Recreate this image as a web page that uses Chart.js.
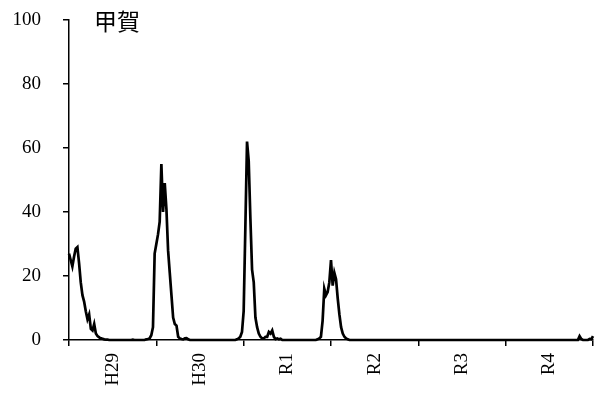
<!DOCTYPE html>
<html>
<head>
<meta charset="utf-8">
<script src="https://cdn.jsdelivr.net/npm/chart.js@4/dist/chart.umd.min.js"></script>
<style>
  html, body { margin: 0; padding: 0; background: #fff; }
  #wrap { width: 597px; height: 394px; position: relative; }
</style>
</head>
<body>
<div id="wrap"><canvas id="c" width="597" height="394"></canvas></div>
<script>
const chartTitle = '甲賀';
const yearLabels = ['H29', 'H30', 'R1', 'R2', 'R3', 'R4'];
const weeksPerYear = 52;

// weekly values, one array per year (52 weeks each)
const h29 = [27, 25, 23, 26, 28.5, 29, 24, 18, 14, 12, 9, 6.5, 8, 3.5, 3, 5, 2, 1.2, 0.8, 0.5,
             0.4, 0.2, 0.1, 0.1, 0, 0, 0, 0, 0, 0, 0, 0, 0, 0, 0, 0, 0, 0, 0.1, 0,
             0, 0, 0, 0, 0, 0, 0.2, 0.3, 0.5, 1.5, 4, 27];
const h30 = [30, 33, 37, 55, 40, 49, 41, 28, 21, 14, 7, 5, 4.5, 1, 0.5, 0.3, 0.2, 0.5, 0.6, 0.2,
             0, 0, 0, 0, 0, 0, 0, 0, 0, 0, 0, 0, 0, 0, 0, 0, 0, 0, 0, 0,
             0, 0, 0, 0, 0, 0, 0, 0, 0.2, 0.5, 1, 2.5];
const r1  = [9, 35, 62, 56, 38, 22, 18, 7, 4, 2, 1, 0.5, 0.5, 1, 1, 2.5, 2, 3, 1, 0.3,
             0.5, 0.2, 0.4, 0, 0, 0, 0, 0, 0, 0, 0, 0, 0, 0, 0, 0, 0, 0, 0, 0,
             0, 0, 0, 0, 0.2, 0.5, 1, 6, 16, 14, 15, 18];
const r2  = [25, 17, 21, 19, 13, 8, 4, 2, 1, 0.5, 0.2, 0, 0, 0, 0, 0, 0, 0, 0, 0,
             0, 0, 0, 0, 0, 0, 0, 0, 0, 0, 0, 0, 0, 0, 0, 0, 0, 0, 0, 0,
             0, 0, 0, 0, 0, 0, 0, 0, 0, 0, 0, 0];
const r3  = [0, 0, 0, 0, 0, 0, 0, 0, 0, 0, 0, 0, 0, 0, 0, 0, 0, 0, 0, 0,
             0, 0, 0, 0, 0, 0, 0, 0, 0, 0, 0, 0, 0, 0, 0, 0, 0, 0, 0, 0,
             0, 0, 0, 0, 0, 0, 0, 0, 0, 0, 0, 0];
const r4  = [0, 0, 0, 0, 0, 0, 0, 0, 0, 0, 0, 0, 0, 0, 0, 0, 0, 0, 0, 0,
             0, 0, 0, 0, 0, 0, 0, 0, 0, 0, 0, 0, 0, 0, 0, 0, 0, 0, 0, 0,
             0, 0, 0, 0, 1.2, 0.3, 0, 0, 0, 0, 0.3, 0.2];
const nextWeek = [1.2];

const yTicks = [0, 20, 40, 60, 80, 100];

const allValues = [].concat(h29, h30, r1, r2, r3, r4, nextWeek);
const points = allValues.map((v, i) => ({ x: i, y: v }));
const xMax = yearLabels.length * weeksPerYear;

const serif = '"Liberation Serif", "DejaVu Serif", serif';

const titlePlugin = {
  id: 'innerTitle',
  afterDraw(chart) {
    const ctx = chart.ctx;
    const a = chart.chartArea;
    ctx.save();
    ctx.fillStyle = '#000';
    ctx.font = '23px "Noto Sans CJK JP", sans-serif';
    ctx.textBaseline = 'top';
    ctx.textAlign = 'left';
    ctx.fillText(chartTitle, a.left + 25, 10);
    ctx.restore();
  }
};

new Chart(document.getElementById('c'), {
  type: 'line',
  data: {
    datasets: [{
      data: points,
      borderColor: '#000',
      borderWidth: 2.7,
      pointRadius: 0,
      tension: 0,
      fill: false,
      clip: 6
    }]
  },
  options: {
    responsive: false,
    animation: false,
    layout: { padding: { left: 0, right: 4, top: 20, bottom: 0 } },
    plugins: { legend: { display: false }, tooltip: { enabled: false } },
    scales: {
      x: {
        type: 'linear',
        min: 0,
        max: xMax,
        afterBuildTicks(scale) {
          const t = [];
          for (let v = 0; v <= xMax; v += weeksPerYear / 2) t.push({ value: v });
          scale.ticks = t;
        },
        afterFit(scale) {
          scale.height = 54;
          scale.paddingLeft = 0;
          scale.paddingRight = 0;
          scale.paddingTop = 0;
          scale.paddingBottom = 0;
        },
        ticks: {
          autoSkip: false,
          minRotation: 90,
          maxRotation: 90,
          padding: 7,
          color: '#000',
          font: { family: serif, size: 19 },
          callback(v) {
            if (v % weeksPerYear === weeksPerYear / 2) return yearLabels[(v - weeksPerYear / 2) / weeksPerYear];
            return '';
          }
        },
        grid: {
          drawOnChartArea: false,
          drawTicks: true,
          tickLength: 6,
          lineWidth: 1.5,
          color(ctx) {
            return ctx.tick && ctx.tick.value % weeksPerYear === 0 ? '#000' : 'rgba(0,0,0,0)';
          }
        },
        border: { display: true, color: '#000', width: 1.5 }
      },
      y: {
        min: 0,
        max: 100,
        afterBuildTicks(scale) { scale.ticks = yTicks.map(v => ({ value: v })); },
        afterFit(scale) {
          scale.width = 69;
          scale.paddingTop = 0;
          scale.paddingBottom = 0;
          scale.paddingLeft = 0;
          scale.paddingRight = 0;
        },
        ticks: {
          padding: 22,
          color: '#000',
          font: { family: serif, size: 19 }
        },
        grid: {
          drawOnChartArea: false,
          drawTicks: true,
          tickLength: 6,
          lineWidth: 1.5,
          color: '#000'
        },
        border: { display: true, color: '#000', width: 1.5 }
      }
    }
  },
  plugins: [titlePlugin]
});
</script>
</body>
</html>
